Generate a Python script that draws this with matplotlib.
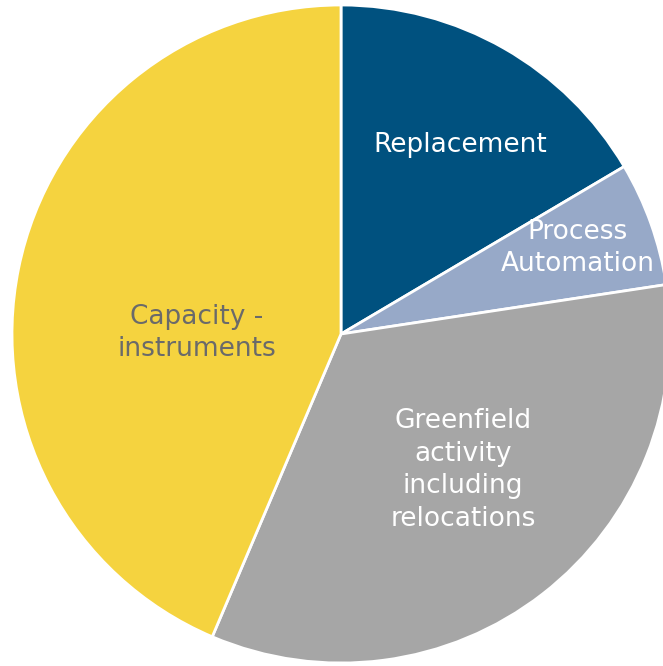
import matplotlib.pyplot as plt

# breakdown of spend by category
labels = ['Replacement', 'Process\nAutomation', 'Greenfield\nactivity\nincluding\nrelocations', 'Capacity -\ninstruments']
shares = [16.5, 6.1, 33.8, 43.6]
colors = ['#00517F', '#97A9C8', '#A6A6A6', '#F5D33F']
text_colors = ['white', 'white', 'white', '#6A6A6A']
# label anchor points (pixel coordinates, y upward)
label_x = [460, 578, 463, 197]
label_y = [521, 418, 196, 333]

fig = plt.figure(figsize=(6.63, 6.66), dpi=100)
ax = fig.add_axes([0, 0, 1, 1])

ax.pie(shares, colors=colors, startangle=90, counterclock=False,
       center=(341, 332), radius=329, frame=True,
       wedgeprops=dict(edgecolor='white', linewidth=2))
ax.set_xlim(0, 663)
ax.set_ylim(0, 666)
ax.axis('off')

for lab, x, y, c in zip(labels, label_x, label_y, text_colors):
    ax.text(x, y, lab, color=c, fontsize=19, ha='center', va='center',
            linespacing=1.33, family='DejaVu Sans')

fig.savefig('out.png', dpi=100)
